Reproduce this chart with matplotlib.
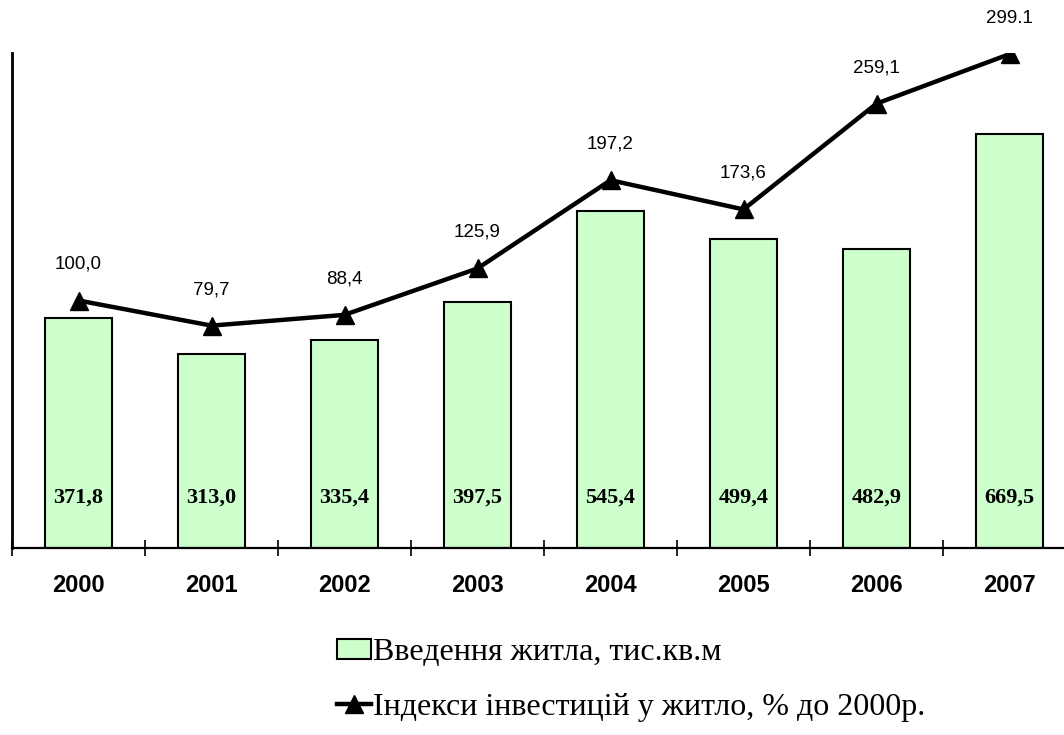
import matplotlib.pyplot as plt
from matplotlib.patches import Patch
from matplotlib.lines import Line2D

years = ["2000", "2001", "2002", "2003", "2004", "2005", "2006", "2007"]
housing = [371.8, 313.0, 335.4, 397.5, 545.4, 499.4, 482.9, 669.5]
housing_labels = ["371,8", "313,0", "335,4", "397,5", "545,4", "499,4", "482,9", "669,5"]
invest = [100.0, 79.7, 88.4, 125.9, 197.2, 173.6, 259.1, 299.1]
invest_labels = ["100,0", "79,7", "88,4", "125,9", "197,2", "173,6", "259,1", "299.1"]

sans = "Liberation Sans"
serif = "Liberation Serif"

fig = plt.figure(figsize=(10.64, 7.35), dpi=100)
ax = fig.add_axes([12 / 1064, 187 / 735, 1.0, 495 / 735])
x = list(range(len(years)))

ax.bar(x, housing, width=0.5, color="#ccffcc", edgecolor="black", linewidth=1.5)
for i, lab in enumerate(housing_labels):
    ax.text(i, 82, lab, ha="center", va="center", fontsize=16,
            fontweight="bold", family=serif)

ax.set_xlim(-0.5, 7.5)
ax.set_ylim(0, 800)
ax.spines["top"].set_visible(False)
ax.spines["right"].set_visible(False)
ax.spines["left"].set_linewidth(2)
ax.spines["bottom"].set_linewidth(1.6)
ax.set_yticks([])
ax.set_xticks([i - 0.5 for i in range(len(years) + 1)])
ax.set_xticklabels([])
ax.tick_params(axis="x", which="major", direction="inout", length=11.5, width=1.2)
ax.set_xticks(x, minor=True)
ax.set_xticklabels(years, minor=True, fontsize=17, fontweight="bold", family=sans)
ax.tick_params(axis="x", which="minor", length=0, pad=19)

ax2 = ax.twinx()
ax2.set_ylim(-100, 300)
for s in ax2.spines.values():
    s.set_visible(False)
ax2.set_yticks([])
ax2.plot(x, invest, color="black", linewidth=3.2, marker="^", markersize=13)
for i, lab in enumerate(invest_labels):
    ax2.annotate(lab, (i, invest[i]), xytext=(0, 26), textcoords="offset points",
                 ha="center", va="center", fontsize=13.5, family=sans)

handles = [
    Patch(facecolor="#ccffcc", edgecolor="black", linewidth=1.5),
    Line2D([], [], color="black", linewidth=3.2, marker="^", markersize=13),
]
labels = ["Введення житла, тис.кв.м", "Індекси інвестицій у житло, % до 2000р."]
fig.legend(handles, labels, loc="center left", bbox_to_anchor=(337 / 1064, 1 - 680 / 735),
           frameon=False, prop={"family": serif, "size": 23}, borderpad=0,
           borderaxespad=0, handlelength=1.05, handleheight=0.6, handletextpad=0.08,
           labelspacing=0.8)

fig.savefig("out.png", dpi=100)
